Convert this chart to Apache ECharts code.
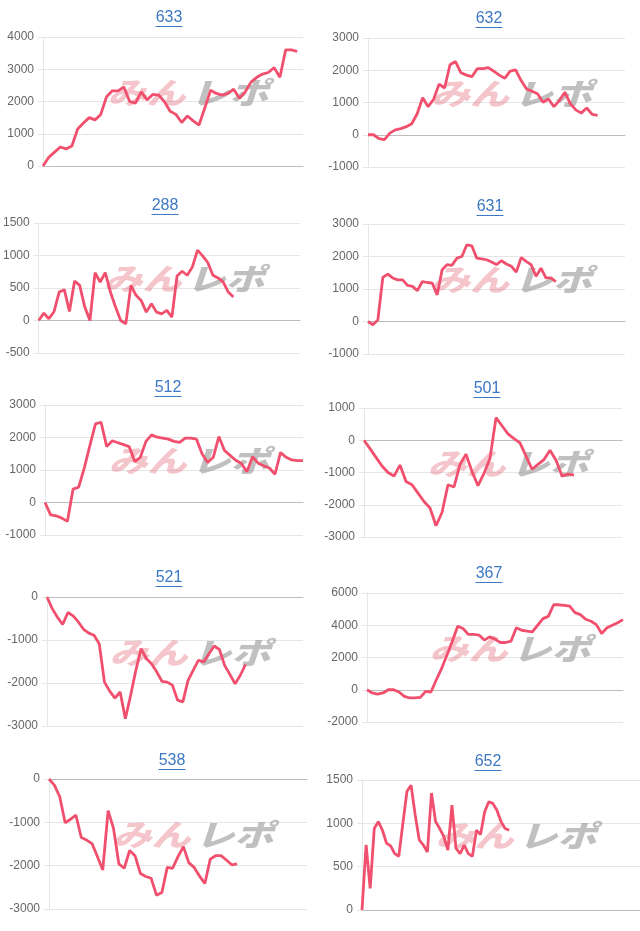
<!DOCTYPE html>
<html>
<head>
<meta charset="utf-8">
<script src="https://cdn.jsdelivr.net/npm/echarts@6/dist/echarts.min.js"></script>
<style>
html,body{margin:0;padding:0;background:#fff;}
#chart{width:640px;height:931px;}
</style>
</head>
<body>
<div id="chart"></div>
<script>
// ---- data ----
const titles = ['633','632','288','631','512','501','521','367','538','652'];
const catCounts = [46, 48, 52, 53, 47, 44, 50, 49, 49, 69];
const s633 = [0, 270, 430, 590, 530, 620, 1150, 1330, 1500, 1430, 1600, 2150, 2330, 2330, 2450, 2000, 1950, 2300, 2050, 2220, 2200, 2000, 1700, 1600, 1350, 1550, 1400, 1270, 1800, 2350, 2250, 2200, 2250, 2380, 2100, 2300, 2600, 2750, 2850, 2900, 3050, 2750, 3600, 3600, 3550];
const s632 = [0, 0, -120, -150, 50, 150, 190, 250, 340, 650, 1150, 870, 1100, 1570, 1450, 2170, 2270, 1920, 1850, 1800, 2050, 2050, 2080, 1970, 1850, 1750, 1970, 2010, 1680, 1420, 1350, 1270, 1010, 1110, 870, 1060, 1320, 960, 770, 670, 830, 630, 600];
const s288 = [0, 113, 26, 139, 438, 474, 139, 608, 541, 206, 0, 737, 593, 737, 438, 206, 0, -52, 541, 387, 309, 129, 258, 129, 103, 155, 52, 686, 758, 696, 825, 1082, 995, 892, 696, 655, 593, 438, 361];
const s631 = [0, -100, 50, 1360, 1460, 1340, 1280, 1280, 1110, 1080, 950, 1230, 1200, 1180, 820, 1590, 1750, 1730, 1950, 2000, 2360, 2330, 1950, 1930, 1900, 1830, 1750, 1870, 1770, 1700, 1520, 1970, 1850, 1750, 1390, 1640, 1340, 1340, 1230];
const s512 = [0, -380, -410, -480, -580, 410, 470, 1060, 1750, 2420, 2470, 1720, 1900, 1840, 1780, 1720, 1260, 1390, 1880, 2080, 2010, 1980, 1950, 1880, 1850, 1980, 1980, 1950, 1500, 1230, 1390, 2030, 1600, 1450, 1300, 1200, 950, 1410, 1210, 1130, 1060, 870, 1540, 1390, 1310, 1290, 1290];
const s501 = [0, -260, -530, -800, -1000, -1110, -770, -1280, -1380, -1640, -1900, -2100, -2650, -2240, -1380, -1450, -750, -430, -970, -1410, -1030, -560, 700, 450, 200, 50, -80, -490, -900, -750, -600, -310, -620, -1110, -1050, -1080];
const s521 = [0, -270, -470, -640, -360, -440, -580, -750, -840, -890, -1090, -1980, -2190, -2350, -2210, -2830, -2290, -1710, -1200, -1430, -1550, -1740, -1960, -1980, -2050, -2400, -2440, -1940, -1700, -1470, -1510, -1320, -1140, -1220, -1590, -1800, -2020, -1820, -1570];
const s367 = [0, -200, -270, -200, 0, 0, -140, -410, -510, -510, -470, -100, -140, 620, 1330, 2150, 3010, 3940, 3800, 3430, 3430, 3390, 3080, 3280, 3140, 2930, 2930, 3010, 3840, 3690, 3630, 3590, 4000, 4410, 4550, 5270, 5270, 5230, 5190, 4780, 4660, 4370, 4250, 4040, 3490, 3840, 4000, 4160, 4350];
const s538 = [0, -140, -410, -1010, -930, -830, -1350, -1410, -1490, -1790, -2100, -730, -1140, -1960, -2060, -1650, -1770, -2180, -2250, -2290, -2680, -2620, -2040, -2060, -1790, -1560, -1930, -2040, -2240, -2410, -1850, -1770, -1770, -1870, -1980, -1960];
const s652 = [0, 750, 250, 940, 1020, 920, 770, 740, 650, 620, 1000, 1370, 1440, 1100, 810, 750, 670, 1350, 1020, 940, 850, 690, 1210, 710, 650, 750, 650, 620, 920, 870, 1130, 1250, 1230, 1150, 1020, 940, 920];
const yMin  = [0, -1000, -500, -1000, -1000, -3000, -3000, -2000, -3000, 0];
const yMax  = [4000, 3000, 1500, 3000, 3000, 1000, 0, 6000, 0, 1500];
const yStep = [1000, 1000, 500, 1000, 1000, 1000, 1000, 2000, 1000, 500];
const seriesData = [s633, s632, s288, s631, s512, s501, s521, s367, s538, s652];

// ---- layout (pixels): left, top, right, bottom, titleX, titleY ----
const layout = [
  [43, 37, 303, 166, 169, 18],
  [368, 38, 625, 167, 489, 19],
  [38, 223, 300, 353, 165, 206],
  [368, 224, 625, 354, 490, 207],
  [45, 405, 303, 535, 168, 388],
  [364, 408, 622, 537, 487, 389],
  [47, 597, 303, 726, 169, 578],
  [367, 593, 623, 722, 489, 574],
  [49, 779, 307, 909, 172, 761],
  [362, 780, 640, 910, 488, 762]
];

const FONT = "'Liberation Sans', Arial, sans-serif";
const LINE_COLOR = '#f0506e';
const TITLE_COLOR = '#3c78c3';
const WM_FONT = "italic 900 30px 'Noto Sans CJK JP', sans-serif";

const grids = [], xAxes = [], yAxes = [], series = [], graphics = [];
layout.forEach((L, i) => {
  const [l, t, r, b, tx, ty] = L;
  grids.push({left: l, top: t, width: r - l, height: b - t});
  const cats = Array.from({length: catCounts[i]}, (_, k) => String(k + 1));
  xAxes.push({
    type: 'category', gridIndex: i, data: cats, boundaryGap: false,
    axisLabel: {show: false}, axisTick: {show: false},
    axisLine: {show: true, onZero: true, lineStyle: {color: '#bdbdbd', width: 1}},
    splitLine: {show: false}
  });
  yAxes.push({
    type: 'value', gridIndex: i, min: yMin[i], max: yMax[i], interval: yStep[i],
    axisLine: {show: true, lineStyle: {color: '#e6e6e6'}},
    axisTick: {show: true, length: 5, lineStyle: {color: '#e6e6e6'}},
    axisLabel: {color: '#666', fontSize: 12, fontFamily: FONT, margin: 9, formatter: v => String(v)},
    splitLine: {show: true, lineStyle: {color: '#e6e6e6', width: 1}}
  });
  series.push({
    type: 'line', xAxisIndex: i, yAxisIndex: i, data: seriesData[i],
    showSymbol: false, symbol: 'none', smooth: false, z: 5,
    lineStyle: {color: LINE_COLOR, width: 2.8}
  });
  // title + underline
  graphics.push({
    type: 'text', x: tx, y: ty, z: 10,
    style: {text: titles[i], fill: TITLE_COLOR, font: '16px ' + FONT, align: 'center', verticalAlign: 'middle'}
  });
  graphics.push({
    type: 'line', z: 10,
    shape: {x1: tx - 13.5, y1: ty + 8.5, x2: tx + 13.5, y2: ty + 8.5},
    style: {stroke: TITLE_COLOR, lineWidth: 1}
  });
  // watermark
  const cx = (l + r) / 2 + 15, cy = (t + b) / 2 - 9;
  graphics.push({
    type: 'group', x: cx, y: cy, scaleX: 1.3, scaleY: 1, z: 1,
    children: [
      {type: 'text', x: -2, y: 0, z: 1,
       style: {text: 'みん', fill: 'rgba(228,120,132,0.42)', font: WM_FONT, align: 'right', verticalAlign: 'middle'}},
      {type: 'text', x: 2, y: 0, z: 1,
       style: {text: 'レポ', fill: 'rgba(140,140,140,0.55)', font: WM_FONT, align: 'left', verticalAlign: 'middle'}}
    ]
  });
});

const chart = echarts.init(document.getElementById('chart'), null, {renderer: 'canvas'});
chart.setOption({
  animation: false,
  backgroundColor: '#fff',
  grid: grids,
  xAxis: xAxes,
  yAxis: yAxes,
  series: series,
  graphic: {elements: graphics}
});
</script>
</body>
</html>
